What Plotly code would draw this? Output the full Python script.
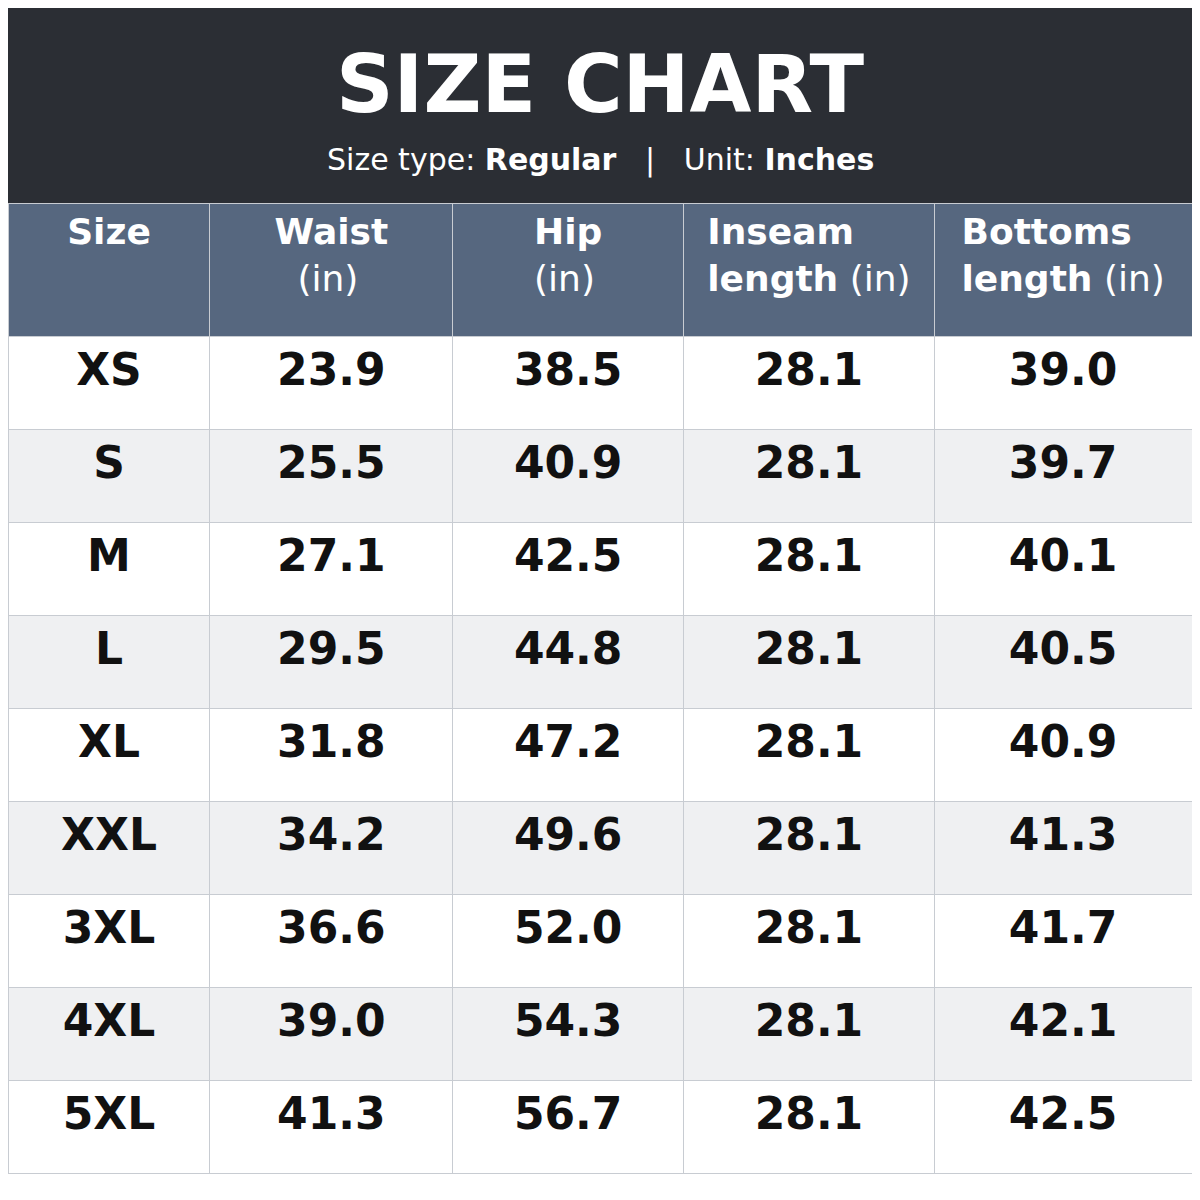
import plotly.graph_objects as go

sizes = ["XS", "S", "M", "L", "XL", "XXL", "3XL", "4XL", "5XL"]
waist = [23.9, 25.5, 27.1, 29.5, 31.8, 34.2, 36.6, 39.0, 41.3]
hip = [38.5, 40.9, 42.5, 44.8, 47.2, 49.6, 52.0, 54.3, 56.7]
inseam = [28.1, 28.1, 28.1, 28.1, 28.1, 28.1, 28.1, 28.1, 28.1]
bottoms = [39.0, 39.7, 40.1, 40.5, 40.9, 41.3, 41.7, 42.1, 42.5]
headers = ["<br><b>Size</b>", "<b>Waist</b><br>  (in)", "<b>Hip</b><br>(in)",
           "<b>Inseam</b><br><b>length</b> (in)", "<b>Bottoms</b><br><b>length</b> (in)"]

def fmt(vals):
    return ["<b>%.1f</b>" % v for v in vals]

row_fill = ["#ffffff" if i % 2 == 0 else "#eff0f2" for i in range(len(sizes))]

fig = go.Figure(go.Table(
    domain=dict(x=[0.0, 1.0], y=[0.0, 0.835]),
    columnwidth=[203, 244, 232, 252, 259],
    header=dict(values=headers, fill_color="#56677f", line_color="#c8ccd2",
                font=dict(family="DejaVu Sans", size=36, color="white"),
                align="center", height=133),
    cells=dict(values=[["<b>%s</b>" % s for s in sizes], fmt(waist), fmt(hip), fmt(inseam), fmt(bottoms)],
               fill_color=[row_fill] * 5, line_color="#c8ccd2",
               font=dict(family="DejaVu Sans", size=44, color="#111111"),
               align="center", height=93),
))

fig.add_shape(type="rect", xref="paper", yref="paper", x0=0, x1=1, y0=0.835, y1=1.0,
              fillcolor="#2b2e34", line_width=0, layer="below")
fig.add_annotation(x=0.5, y=0.935, xref="paper", yref="paper", yanchor="middle",
                   text="<b>SIZE CHART</b>",
                   showarrow=False, font=dict(family="DejaVu Sans", size=80, color="white"))
fig.add_annotation(x=0.5, y=0.872, xref="paper", yref="paper", yanchor="middle",
                   text="Size type: <b>Regular</b>   |   Unit: <b>Inches</b>",
                   showarrow=False, font=dict(family="DejaVu Sans", size=30, color="white"))

fig.update_layout(width=1184, height=1184, margin=dict(l=0, r=0, t=0, b=0),
                  paper_bgcolor="white", plot_bgcolor="white")
fig.write_html("out.html")
